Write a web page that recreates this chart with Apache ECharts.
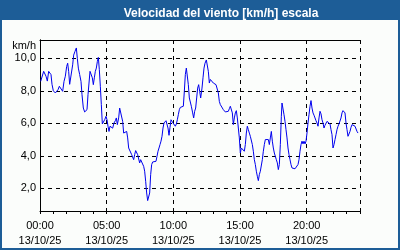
<!DOCTYPE html>
<html><head><meta charset="utf-8">
<script src="https://cdn.jsdelivr.net/npm/echarts@6/dist/echarts.min.js"></script>
<style>html,body{margin:0;padding:0;background:#fbfdfb}#c{width:400px;height:250px}</style>
</head><body><div id="c"></div>
<script>
const hours = [0.05,0.15,0.275,0.35,0.45,0.55,0.65,0.725,0.825,0.9,1.0,1.15,1.25,1.35,1.45,1.525,1.6,1.7,1.8,1.9,2.0,2.075,2.15,2.225,2.3,2.375,2.45,2.525,2.625,2.725,2.8,2.875,2.975,3.075,3.15,3.25,3.35,3.45,3.525,3.6,3.675,3.75,3.85,3.925,4.0,4.075,4.15,4.225,4.3,4.375,4.45,4.525,4.6,4.675,4.75,4.85,4.95,5.025,5.1,5.175,5.25,5.35,5.45,5.55,5.65,5.725,5.8,5.9,5.975,6.05,
6.125,6.2,6.275,6.35,6.425,6.5,6.575,6.65,6.725,6.8,6.875,6.95,7.025,7.1,7.175,7.25,7.325,7.4,7.475,7.55,7.625,7.7,7.775,7.85,7.925,8.0,8.075,8.15,8.225,8.3,8.375,8.45,8.525,8.6,8.7,8.775,8.85,8.925,9.0,9.075,9.15,9.225,9.3,9.375,9.45,9.525,9.6,9.675,9.75,9.825,9.9,9.975,10.05,10.15,10.225,10.3,10.375,10.45,10.525,10.6,10.675,10.75,10.825,10.9,10.975,11.05,11.125,11.2,11.275,11.35,11.45,11.525,11.6,11.675,11.75,11.825,11.9,11.975,12.05,12.125,
12.15,12.225,12.3,12.375,12.475,12.55,12.625,12.7,12.775,12.85,12.925,13.0,13.1,13.2,13.3,13.375,13.45,13.525,13.6,13.675,13.75,13.825,13.9,13.975,14.05,14.125,14.2,14.275,14.35,14.425,14.5,14.575,14.65,14.725,14.8,14.875,14.95,15.025,15.1,15.175,15.25,15.325,15.4,15.475,15.55,15.625,15.7,15.775,15.85,15.925,16.0,16.075,16.15,16.225,16.3,16.375,16.45,16.525,16.6,16.675,16.75,16.825,16.9,16.975,17.05,17.125,17.2,17.275,17.35,17.425,17.5,17.575,17.65,17.725,17.8,17.875,17.95,18.025,18.1,
18.15,18.225,18.3,18.375,18.45,18.525,18.6,18.675,18.75,18.825,18.9,18.975,19.05,19.125,19.2,19.275,19.35,19.425,19.5,19.575,19.65,19.725,19.8,19.875,19.95,20.025,20.1,20.175,20.25,20.325,20.4,20.475,20.55,20.625,20.7,20.775,20.85,20.925,21.0,21.075,21.15,21.225,21.3,21.375,21.45,21.525,21.6,21.675,21.75,21.825,21.9,21.975,22.05,22.125,22.2,22.275,22.35,22.425,22.5,22.575,22.65,22.725,22.8,22.875,22.95,23.025,23.1,23.175,23.25,23.325,23.4,23.475,23.55,23.625,23.7,23.775,23.85];
const windSpeed = [8.58,8.7,9.2,9.26,8.9,8.6,9.2,9.26,9.0,8.4,8.0,7.87,7.8,8.07,8.28,8.4,8.17,7.97,8.58,8.9,9.5,9.7,9.2,8.4,8.28,8.4,9.6,10.2,10.43,10.64,10.0,9.4,9.0,8.58,7.76,6.94,6.7,6.7,6.84,7.76,8.48,9.2,9.3,8.8,8.38,8.8,9.2,9.4,9.8,10.06,9.3,8.28,7.15,5.96,6.02,6.22,6.43,6.22,5.82,5.5,5.82,5.9,5.7,6.02,6.16,6.33,5.92,6.33,6.94,7.05,
6.84,6.12,5.4,5.3,5.47,5.5,5.1,4.48,4.58,4.38,4.07,4.17,3.76,4.07,4.32,4.28,4.07,3.97,3.56,3.76,3.83,3.83,3.35,3.05,2.43,1.71,1.24,1.16,1.71,2.84,3.46,3.62,3.66,3.66,3.66,3.97,4.28,4.48,4.69,4.9,5.2,5.71,6.02,6.12,6.16,6.22,5.71,5.26,5.75,6.22,6.12,6.02,5.92,5.82,5.96,6.22,6.53,6.84,6.98,7.05,7.05,7.05,7.97,9.0,9.4,9.45,8.38,7.56,7.46,7.05,6.64,6.33,6.74,6.94,7.56,8.17,8.38,7.97,7.56,7.66,
8.17,8.8,9.4,9.7,9.9,9.85,9.2,8.48,8.7,8.58,8.6,8.48,8.4,8.38,8.38,7.87,7.35,7.15,7.25,7.15,6.84,6.74,6.7,6.64,6.64,6.74,6.9,7.05,7.15,6.64,5.92,6.33,6.64,6.78,6.33,5.71,5.1,4.17,4.48,4.52,4.38,4.28,4.69,5.4,5.82,5.61,5.4,5.2,5.1,4.69,4.28,3.76,3.46,3.05,2.74,2.47,2.84,3.05,3.15,3.76,4.28,4.69,5.0,5.0,4.9,5.0,4.69,5.1,5.5,4.9,4.48,4.17,4.07,3.76,3.56,3.15,3.46,4.69,6.43,
7.25,7.15,6.53,6.12,5.61,5.1,4.48,4.07,3.76,3.46,3.25,3.15,3.15,3.2,3.15,3.1,3.46,3.76,4.28,4.69,4.9,4.73,4.9,4.73,4.9,5.4,6.02,6.53,7.05,7.4,6.94,6.64,6.5,6.33,6.16,6.02,5.82,6.33,6.74,6.58,6.22,6.02,5.71,5.88,5.96,6.12,6.12,6.12,5.96,5.61,5.3,4.48,4.69,5.0,5.3,5.61,5.82,5.96,6.02,6.33,6.64,6.78,6.9,6.64,6.02,5.61,5.2,5.3,5.5,5.75,5.92,5.96,5.92,5.82,5.75,5.5,5.4];
const xTickLabels = ['00:00\n13/10/25','05:00\n13/10/25','10:00\n13/10/25','15:00\n13/10/25','20:00\n13/10/25'];
const yTickValues = [2,4,6,8,10];

const FONT = 'Liberation Sans';
const chart = echarts.init(document.getElementById('c'), null, {renderer:'canvas'});
const dashed = {show:true, lineStyle:{color:'#000', type:[4,4], width:1}};
chart.setOption({
  animation:false,
  backgroundColor:'#fbfdfb',
  title:{text:'Velocidad del viento [km/h] escala', left:216, top:3, textAlign:'center',
    textStyle:{color:'#fff', fontFamily:FONT, fontWeight:'bold', fontSize:12}},
  graphic:[
    {type:'rect', shape:{x:0,y:0,width:400,height:20}, style:{fill:'#1d5d97'}, z:-1},
    {type:'rect', shape:{x:1,y:1,width:398,height:248}, style:{fill:null, stroke:'#1d5d97', lineWidth:2}, z:-1},
    {type:'text', x:36, y:46, style:{text:'km/h', fill:'#000', font:'11px "Liberation Sans"', align:'right', verticalAlign:'middle'}}
  ],
  grid:{left:40, right:40, top:40, bottom:39},
  xAxis:[
    {type:'value', min:0, max:24, interval:1, position:'bottom',
      axisLine:{show:true, lineStyle:{color:'#000', width:1}},
      axisTick:{show:true, length:3, lineStyle:{color:'#000'}},
      axisLabel:{show:false}, splitLine:{show:false}},
    {type:'value', min:0, max:24, interval:5, position:'bottom',
      axisLine:{show:false}, axisTick:{show:false}, splitLine:dashed,
      axisLabel:{show:true, margin:7, color:'#000', fontFamily:FONT, fontSize:11, lineHeight:15,
        showMaxLabel:false,
        formatter:v => (v % 5 === 0 && v < 24) ? xTickLabels[v/5] : ''}},
    {type:'value', min:0, max:24, position:'top',
      axisLine:{show:true, lineStyle:{color:'#000', width:1}},
      axisTick:{show:false}, axisLabel:{show:false}, splitLine:{show:false}}
  ],
  yAxis:[
    {type:'value', min:0.6, max:11.13, position:'left',
      axisLine:{show:true, lineStyle:{color:'#000', width:1}},
      axisTick:{show:false, customValues:yTickValues},
      splitLine:dashed,
      axisLabel:{show:true, customValues:yTickValues, margin:4, color:'#000', fontFamily:FONT, fontSize:11,
        formatter:v => v.toFixed(1).replace('.', ',')}},
    {type:'value', min:0.6, max:11.13, position:'right',
      axisLine:{show:true, lineStyle:{color:'#000', width:1}},
      axisTick:{show:false}, axisLabel:{show:false}, splitLine:{show:false}}
  ],
  series:[{
    type:'line', xAxisIndex:0, yAxisIndex:0, showSymbol:false, symbol:'none',
    lineStyle:{color:'#0000ee', width:1},
    data: hours.map((h,i) => [h, windSpeed[i]])
  }]
});
</script></body></html>
